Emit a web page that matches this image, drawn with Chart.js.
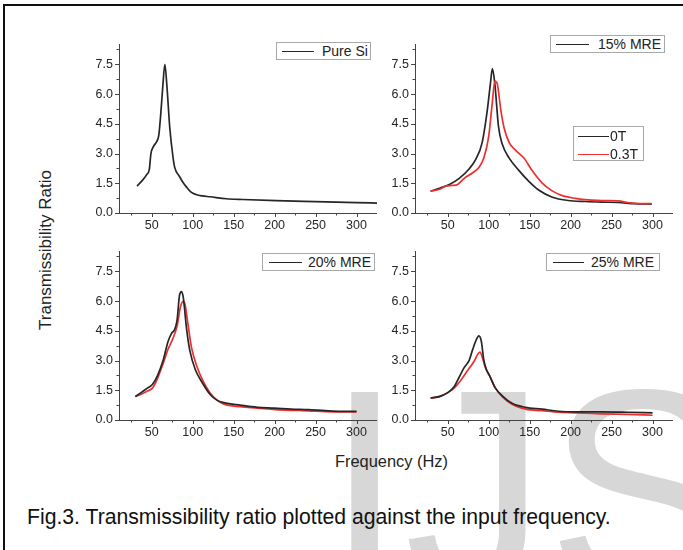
<!DOCTYPE html>
<html>
<head>
<meta charset="utf-8">
<script src="https://cdn.jsdelivr.net/npm/chart.js@4"></script>
<style>
  body { margin: 0; background: #fff; }
  #page { position: relative; width: 683px; height: 550px; overflow: hidden; background: #fff;
          font-family: "Liberation Sans", Arial, sans-serif; }
  #frame { position: absolute; left: 3px; top: 4px; width: 700px; height: 600px;
           border-left: 2px solid #111; border-top: 2px solid #111; }
  #mark { position: absolute; left: 325px; top: 347px; font-size: 285px; line-height: 285px;
          color: #d7d7d7; white-space: nowrap; z-index: 0; }
  canvas { position: absolute; z-index: 1; }
  .legend { position: absolute; z-index: 2; background: #fff; border: 1px solid #a8a8a8;
            font-size: 14px; color: #222; box-sizing: border-box; }
  .legend .row { position: absolute; height: 16px; line-height: 16px; white-space: nowrap; }
  .legend .sample { position: absolute; top: 8px; height: 0; border-top: 1.7px solid #333; }
  .legend .txt { position: absolute; top: 0; }
  #ytitle { position: absolute; left: 46px; top: 250px; z-index: 2; font-size: 17px; color: #222;
            white-space: nowrap; transform: translate(-50%, -50%) rotate(-90deg); }
  #xtitle { position: absolute; left: 335px; top: 452px; z-index: 2; font-size: 16.4px; color: #222; }
  #caption { position: absolute; left: 27px; top: 505px; z-index: 2; font-size: 21.2px; color: #111;
             white-space: nowrap; }
</style>
</head>
<body>
<div id="page">
  <div id="mark">IJS</div>
  <div id="frame"></div>
  <canvas id="c1" width="298" height="204" style="left:79px;top:31px"></canvas>
  <canvas id="c2" width="298" height="204" style="left:375px;top:31px"></canvas>
  <canvas id="c3" width="298" height="204" style="left:79px;top:238px"></canvas>
  <canvas id="c4" width="298" height="204" style="left:375px;top:238px"></canvas>
  <div id="ytitle">Transmissibility Ratio</div>
  <div id="xtitle">Frequency (Hz)</div>
  <div id="caption">Fig.3. Transmissibility ratio plotted against the input frequency.</div>
</div>
<script>
// axis ticks
const xTicks = [50, 100, 150, 200, 250, 300];
const xMinor = [25, 75, 125, 175, 225, 275, 325];
const yTicks = [0, 1.5, 3, 4.5, 6, 7.5];
const yMinor = [0.75, 2.25, 3.75, 5.25, 6.75, 8.25];

// legend names
const panelNames = ['Pure Si', '15% MRE', '20% MRE', '25% MRE'];
const fieldNames = ['0T', '0.3T'];

// Pure Si
const siFreq  = [32, 38, 44, 47, 49, 52, 56, 58.5, 61, 63.5, 66, 68.5, 72, 76, 78, 84, 88, 92, 98, 104, 112, 121, 141, 161, 202, 250, 300, 326];
const siRatio = [1.36, 1.62, 1.95, 2.2, 3.0, 3.35, 3.6, 3.9, 5.0, 6.4, 7.5, 6.4, 4.3, 2.8, 2.3, 1.83, 1.55, 1.33, 1.05, 0.93, 0.86, 0.82, 0.72, 0.68, 0.62, 0.57, 0.52, 0.5];

// 15% MRE
const m15Freq0  = [29, 40, 52, 64, 76, 84, 92, 98, 102, 104.5, 107.5, 112, 116.5, 125, 137, 149, 161, 177, 197, 218, 238, 258, 278, 299];
const m15Ratio0 = [1.10, 1.25, 1.44, 1.75, 2.22, 2.69, 3.55, 5.1, 6.5, 7.28, 6.5, 4.34, 3.48, 2.77, 2.14, 1.6, 1.16, 0.81, 0.63, 0.58, 0.55, 0.53, 0.47, 0.45];
const m15Freq3  = [29, 40, 48, 56, 62, 70, 80, 88, 94, 100, 104, 107.5, 110.5, 114.5, 118.5, 125, 133, 143, 153, 165, 177, 189, 206, 222, 238, 258, 270, 283, 299];
const m15Ratio3 = [1.10, 1.2, 1.36, 1.39, 1.44, 1.75, 2.02, 2.3, 2.77, 3.87, 5.4, 6.65, 6.5, 5.28, 4.34, 3.55, 3.16, 2.77, 2.14, 1.52, 1.13, 0.89, 0.74, 0.66, 0.63, 0.61, 0.53, 0.47, 0.47];

// 20% MRE
const m20Freq0  = [30, 37, 45, 51, 57, 64, 70, 74, 78, 81, 84, 86.5, 88.5, 92.5, 96.5, 103, 111, 121, 130, 138, 158, 179, 200, 220, 241, 262, 282, 300];
const m20Ratio0 = [1.18, 1.38, 1.62, 1.8, 2.24, 3.03, 3.97, 4.36, 4.57, 5.07, 6.32, 6.48, 6.17, 4.6, 3.5, 2.56, 1.93, 1.3, 0.99, 0.88, 0.75, 0.64, 0.6, 0.55, 0.52, 0.47, 0.44, 0.44];
const m20Freq3  = [30, 37, 45, 51, 57, 64, 70, 76, 81, 85, 88.5, 90.5, 94.5, 98.5, 105, 113, 121, 130, 138, 158, 179, 200, 220, 241, 262, 282, 300];
const m20Ratio3 = [1.18, 1.3, 1.46, 1.62, 2.09, 2.87, 3.58, 4.13, 4.75, 5.7, 5.98, 5.85, 4.75, 3.66, 2.71, 1.93, 1.38, 0.99, 0.8, 0.67, 0.6, 0.52, 0.49, 0.46, 0.42, 0.41, 0.41];

// 25% MRE
const m25Freq0  = [29, 40, 50, 58, 64, 70, 76, 80, 84, 88, 91, 94, 97, 101, 108, 116.5, 129, 145, 165, 185, 206, 238, 270, 300];
const m25Ratio0 = [1.11, 1.18, 1.38, 1.69, 2.17, 2.64, 3.0, 3.5, 3.97, 4.24, 3.97, 3.03, 2.56, 2.24, 1.62, 1.22, 0.83, 0.64, 0.55, 0.44, 0.41, 0.41, 0.39, 0.36];
const m25Freq3  = [29, 40, 50, 58, 66, 74, 82, 87, 89.5, 92, 96, 101, 108, 116.5, 129, 145, 165, 185, 206, 238, 270, 300];
const m25Ratio3 = [1.11, 1.19, 1.38, 1.62, 2.01, 2.48, 2.95, 3.34, 3.42, 3.18, 2.64, 2.24, 1.62, 1.18, 0.78, 0.55, 0.47, 0.39, 0.36, 0.31, 0.28, 0.24];

const BLACK = '#262626';
const RED = '#ee2f30';
const tickFont = { family: '"Liberation Sans", Arial, sans-serif', size: 12.5 };

const pts = (xs, ys) => xs.map((x, i) => ({ x: x, y: ys[i] }));

// small outward tick marks, major and minor
const tickMarks = {
  id: 'tickMarks',
  afterDraw(chart) {
    const { ctx, chartArea, scales } = chart;
    ctx.save();
    ctx.strokeStyle = '#444';
    ctx.lineWidth = 1;
    ctx.beginPath();
    const ax = (v, len) => {
      const p = Math.round(scales.x.getPixelForValue(v)) + 0.5;
      ctx.moveTo(p, chartArea.bottom);
      ctx.lineTo(p, chartArea.bottom + len);
    };
    const ay = (v, len) => {
      const p = Math.round(scales.y.getPixelForValue(v)) + 0.5;
      ctx.moveTo(chartArea.left, p);
      ctx.lineTo(chartArea.left - len, p);
    };
    xTicks.forEach(v => ax(v, 4));
    xMinor.forEach(v => ax(v, 2.5));
    yTicks.forEach(v => ay(v, 4));
    yMinor.forEach(v => ay(v, 2.5));
    ctx.stroke();
    ctx.restore();
  }
};

function line(data, color) {
  return { data: data, borderColor: color, backgroundColor: color, borderWidth: 1.7,
           pointRadius: 0, fill: false, cubicInterpolationMode: 'monotone' };
}

function makeChart(id, datasets) {
  return new Chart(document.getElementById(id), {
    type: 'line',
    data: { datasets: datasets },
    options: {
      responsive: false,
      animation: false,
      devicePixelRatio: 1,
      layout: { padding: 0 },
      plugins: { legend: { display: false }, tooltip: { enabled: false } },
      scales: {
        x: {
          type: 'linear', min: 10, max: 325,
          afterBuildTicks: s => { s.ticks = xTicks.map(v => ({ value: v })); },
          afterFit: s => { s.height = 22; },
          grid: { display: false, drawTicks: false },
          border: { color: '#444', width: 1 },
          ticks: { font: tickFont, color: '#262626', padding: 5, maxRotation: 0, autoSkip: false }
        },
        y: {
          min: 0, max: 8.5,
          afterBuildTicks: s => { s.ticks = yTicks.map(v => ({ value: v })); },
          afterFit: s => { s.width = 40; },
          grid: { display: false, drawTicks: false },
          border: { color: '#444', width: 1 },
          ticks: { font: tickFont, color: '#262626', padding: 6, callback: v => v.toFixed(1) }
        }
      }
    },
    plugins: [tickMarks]
  });
}

makeChart('c1', [line(pts(siFreq, siRatio), BLACK)]);
makeChart('c2', [line(pts(m15Freq3, m15Ratio3), RED), line(pts(m15Freq0, m15Ratio0), BLACK)]);
makeChart('c3', [line(pts(m20Freq0, m20Ratio0), BLACK), line(pts(m20Freq3, m20Ratio3), RED)]);
makeChart('c4', [line(pts(m25Freq0, m25Ratio0), BLACK), line(pts(m25Freq3, m25Ratio3), RED)]);

// legend boxes in page pixels
function legend(box, rows) {
  const el = document.createElement('div');
  el.className = 'legend';
  el.style.left = box[0] + 'px';
  el.style.top = box[1] + 'px';
  el.style.width = box[2] + 'px';
  el.style.height = box[3] + 'px';
  rows.forEach(r => {
    const row = document.createElement('div');
    row.className = 'row';
    row.style.left = '0px';
    row.style.top = r.top + 'px';
    const s = document.createElement('div');
    s.className = 'sample';
    s.style.left = r.x0 + 'px';
    s.style.width = r.len + 'px';
    s.style.borderTopColor = r.color;
    const t = document.createElement('span');
    t.className = 'txt';
    t.style.left = r.tx + 'px';
    t.textContent = r.label;
    row.appendChild(s);
    row.appendChild(t);
    el.appendChild(row);
  });
  document.getElementById('page').appendChild(el);
}

legend([276, 42, 95, 18], [{ top: 0, x0: 5, len: 32, tx: 45, label: panelNames[0], color: BLACK }]);
legend([550, 35, 115, 18], [{ top: 0, x0: 5, len: 33, tx: 47, label: panelNames[1], color: BLACK }]);
legend([573, 126, 71, 35], [
  { top: 1, x0: 4, len: 31, tx: 36, label: fieldNames[0], color: BLACK },
  { top: 18.5, x0: 4, len: 31, tx: 36, label: fieldNames[1], color: RED }
]);
legend([262, 253, 113, 18], [{ top: 0, x0: 6, len: 33, tx: 45, label: panelNames[2], color: BLACK }]);
legend([546, 253, 114, 18], [{ top: 0, x0: 6, len: 31, tx: 44, label: panelNames[3], color: BLACK }]);
</script>
</body>
</html>
